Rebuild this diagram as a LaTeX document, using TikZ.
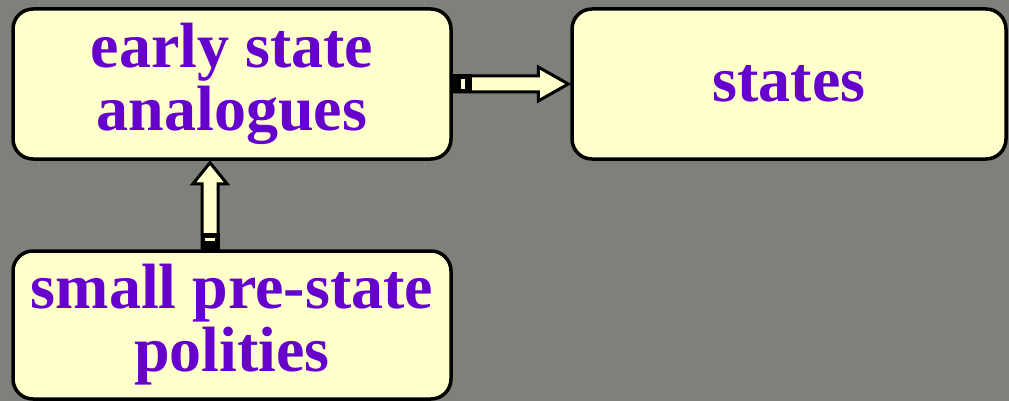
\documentclass[tikz,border=0pt]{standalone}
\usepackage{fontspec}
\setmainfont{Liberation Serif}
\usetikzlibrary{calc}
\definecolor{bg}{RGB}{128,128,122}
\definecolor{boxfill}{RGB}{255,255,204}
\definecolor{txt}{RGB}{102,0,204}
\tikzset{
  box/.style={draw=black, line width=3.5pt, fill=boxfill, rounded corners=20pt,
    minimum width=438pt, inner sep=0pt, align=center, text=txt,
    font=\fontsize{64}{63}\selectfont\bfseries},
  arr/.style={draw=black, line width=3pt, fill=boxfill, line join=miter},
  tail/.style={fill=black},
  stripe/.style={fill=boxfill}
}
\begin{document}
\begin{tikzpicture}[x=1pt,y=-1pt]
\useasboundingbox (0,0) rectangle (1009,401);
\fill[bg] (0,0) rectangle (1009,401);
\node[box, minimum height=150pt] (a) at (232,84) {early state\\analogues};
\node[box, minimum height=150pt, minimum width=434pt] (b) at (789,84) {states};
\node[box, minimum height=148pt] (c) at (232,325) {small pre-state\\polities};
% horizontal arrow a -> b
\draw[arr] ($(a.east)+(0,-8)$) -- ($(b.west)+(-32,-8)$) -- ($(b.west)+(-32,-17)$) -- ($(b.west)+(-2,0)$)
  -- ($(b.west)+(-32,17)$) -- ($(b.west)+(-32,8)$) -- ($(a.east)+(0,8)$) -- cycle;
\fill[tail] ($(a.east)+(0,-9.5)$) rectangle ($(a.east)+(19,9.5)$);
\fill[stripe] ($(a.east)+(8,-5)$) rectangle ($(a.east)+(12,5)$);
% vertical arrow c -> a
\coordinate (ct) at ($(c.north)+(-22,0)$);
\coordinate (ab) at ($(a.south)+(-22,0)$);
\draw[arr] ($(ct)+(-8,0)$) -- ($(ab)+(-8,23)$) -- ($(ab)+(-17,23)$) -- ($(ab)+(0,2)$)
  -- ($(ab)+(17,23)$) -- ($(ab)+(8,23)$) -- ($(ct)+(8,0)$) -- cycle;
\fill[tail] ($(ct)+(-9.5,0)$) rectangle ($(ct)+(9.5,-16)$);
\fill[stripe] ($(ct)+(-5,-8)$) rectangle ($(ct)+(5,-11)$);
\end{tikzpicture}
\end{document}
